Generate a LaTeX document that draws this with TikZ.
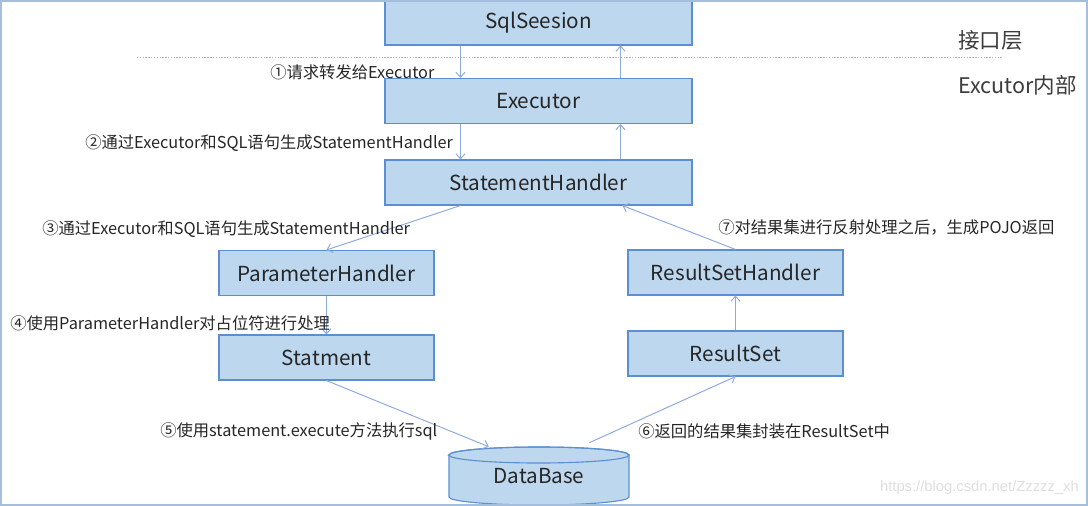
\documentclass[tikz,border=0pt]{standalone}
\usepackage{fontspec}
\setmainfont{Noto Sans CJK SC}
\newfontfamily\urlfont{Liberation Sans}
\usetikzlibrary{arrows.meta}
\definecolor{boxfill}{RGB}{189,215,238}
\definecolor{boxline}{RGB}{91,143,210}
\definecolor{flowline}{RGB}{143,170,220}
\definecolor{framec}{RGB}{165,190,222}
\definecolor{textc}{RGB}{38,38,38}

\begin{document}
\begin{tikzpicture}[x=0.025cm,y=-0.025cm]
    \tikzstyle{layer}=[rectangle,draw=boxline,fill=boxfill,line width=0.8pt,text=textc,inner sep=0pt,font=\fontsize{14.7}{17}\selectfont]
    \tikzstyle{wide}=[layer,minimum width=7.675cm,minimum height=1.125cm]
    \tikzstyle{narrow}=[layer,minimum width=5.375cm,minimum height=1.125cm]
    \tikzstyle{note}=[anchor=west,inner sep=0pt,text=textc,font=\fontsize{11.6}{14}\selectfont]
    \tikzstyle{side}=[anchor=west,inner sep=0pt,text=textc!90,font=\fontsize{15.3}{18}\selectfont]
    \tikzstyle{flow}=[draw=flowline,line width=0.7pt,-{Straight Barb[length=3.5pt,width=6.5pt]}]
    \useasboundingbox (0,0) rectangle (1088,506);
    % layers
    \draw[gray!60,line width=0.6pt,dash pattern=on 1pt off 1pt] (137,57) -- (1003,57);
    \node[side] (iface) at (958,40) {接口层};
    \node[side] (inner) at (958,85) {Excutor内部};
    \node[wide] (sqls) at (538.5,22.5) {SqlSeesion};
    \node[wide] (exec) at (538.5,101) {Executor};
    \node[wide] (sh) at (538.5,182.5) {StatementHandler};
    \node[narrow] (ph) at (326.5,273) {ParameterHandler};
    \node[narrow] (stm) at (326.5,357.5) {Statment};
    \node[narrow] (rsh) at (735.5,272.5) {ResultSetHandler};
    \node[narrow] (rs) at (735.5,353.5) {ResultSet};
    % database
    \filldraw[fill=boxfill,draw=boxline,line width=0.8pt] (449,455) -- (449,497)
      arc[start angle=180,end angle=360,x radius=2.25cm,y radius=0.2cm] -- (629,455)
      arc[start angle=0,end angle=180,x radius=2.25cm,y radius=0.2cm] -- cycle;
    \draw[boxline,line width=0.8pt] (539,455) ellipse[x radius=2.25cm,y radius=0.2cm];
    \node[minimum width=4.5cm,minimum height=1.45cm,inner sep=0pt,text=textc,font=\fontsize{14.7}{17}\selectfont] (db) at (539,476) {DataBase};
    % flow
    \draw[flow] ([xshift=-1.95cm]sqls.south) -- ([xshift=-1.95cm]exec.north);
    \draw[flow] ([xshift=2.05cm]exec.north) -- ([xshift=2.05cm]sqls.south);
    \draw[flow] ([xshift=-1.95cm]exec.south) -- ([xshift=-1.95cm]sh.north);
    \draw[flow] ([xshift=2.05cm]sh.north) -- ([xshift=2.05cm]exec.south);
    \draw[flow] ([xshift=-1.95cm]sh.south) -- (ph.north);
    \draw[flow] (ph.south) -- (stm.north);
    \draw[flow] (stm.south) -- ([xshift=1cm]db.north west);
    \draw[flow] ([xshift=-1cm,yshift=0.1cm]db.north east) -- (rs.south);
    \draw[flow] (rs.north) -- (rsh.south);
    \draw[flow] (rsh.north) -- ([xshift=2.1cm]sh.south);
    % labels
    \node[note] (lab1) at (270,72) {①请求转发给Executor};
    \node[note] (lab2) at (85,143) {②通过Executor和SQL语句生成StatementHandler};
    \node[note] (lab3) at (42,229) {③通过Executor和SQL语句生成StatementHandler};
    \node[note] (lab4) at (10,323) {④使用ParameterHandler对占位符进行处理};
    \node[note] (lab5) at (160,431) {⑤使用statement.execute方法执行sql};
    \node[note] (lab6) at (638,431) {⑥返回的结果集封装在ResultSet中};
    \node[note] (lab7) at (718,227) {⑦对结果集进行反射处理之后，生成POJO返回};
    \node[anchor=east,inner sep=0pt,text=black!13,font=\urlfont\fontsize{10.5}{12}\selectfont] (wm) at (1079,488) {https://blog.csdn.net/Zzzzz\_xh};
    \draw[framec,line width=1.2pt] (1,1) rectangle (1087,505);
\end{tikzpicture}
\end{document}
